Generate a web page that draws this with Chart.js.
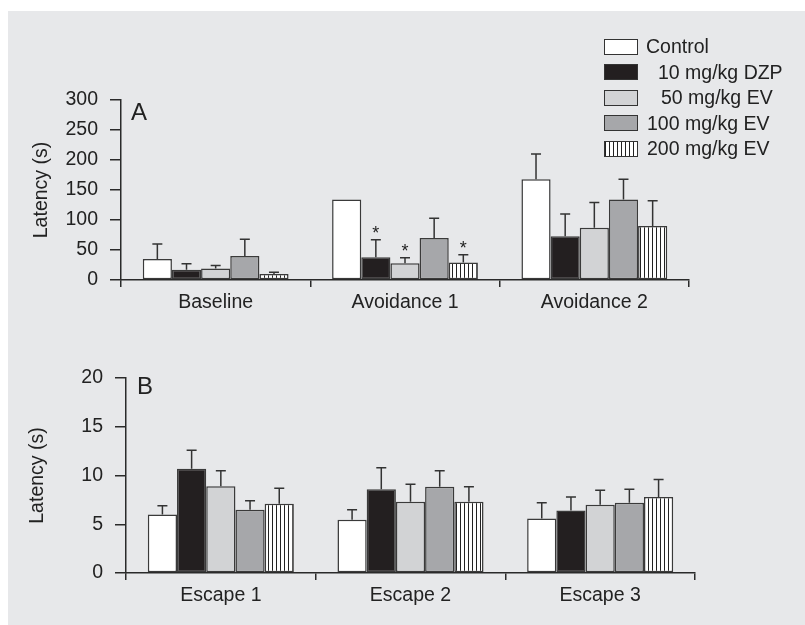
<!DOCTYPE html>
<html>
<head>
<meta charset="utf-8">
<script src="https://cdn.jsdelivr.net/npm/chart.js@4.4.1/dist/chart.umd.min.js"></script>
<style>
    body { margin: 0; background: #fff; font-family: "Liberation Sans", Arial, sans-serif; }
    #panel { position: absolute; left: 8px; top: 11px; width: 797px; height: 614px; background: #e7e8ea; }
    .wrap { position: absolute; left: 0; width: 805px; }
    #legend { position: absolute; left: 604px; top: 34px; color: #222; font-size: 19.5px; }
    .row { display: flex; align-items: center; height: 25.5px; }
    .box { width: 32px; height: 14px; border: 1.5px solid #333; margin-right: 8px; flex: none; }
</style>
</head>
<body>
<div id="panel"></div>
<div class="wrap" style="top:0;height:330px"><canvas id="chartA"></canvas></div>
<div class="wrap" style="top:320px;height:305px"><canvas id="chartB"></canvas></div>
<div id="legend"></div>
<script>
    // categories
    const groupsA = ["Baseline", "Avoidance 1", "Avoidance 2"];
    const groupsB = ["Escape 1", "Escape 2", "Escape 3"];
    const seriesNames = ["Control", "10 mg/kg DZP", "50 mg/kg EV", "100 mg/kg EV", "200 mg/kg EV"];

    // panel A: avoidance latency (s), mean and upper error
    const controlA = [35, 134, 168];
    const dzpA = [17, 38, 73];
    const ev50A = [19, 28, 87];
    const ev100A = [40, 70, 134];
    const ev200A = [10, 29, 90];
    const controlA_err = [25, 0, 42];
    const dzpA_err = [10, 29, 37];
    const ev50A_err = [5, 9, 42];
    const ev100A_err = [28, 33, 34];
    const ev200A_err = [3, 13, 42];
    const dzpA_star = [false, true, false];
    const ev50A_star = [false, true, false];
    const ev200A_star = [false, true, false];

    // panel B: escape latency (s)
    const controlB = [6.0, 5.45, 5.6];
    const dzpB = [10.7, 8.6, 6.4];
    const ev50B = [8.9, 7.3, 7.0];
    const ev100B = [6.5, 8.85, 7.2];
    const ev200B = [7.1, 7.3, 7.8];
    const controlB_err = [0.9, 1.05, 1.6];
    const dzpB_err = [1.9, 2.2, 1.4];
    const ev50B_err = [1.6, 1.8, 1.5];
    const ev100B_err = [0.9, 1.65, 1.4];
    const ev200B_err = [1.6, 1.55, 1.8];

    // tick labels
    const ticksA = [0, 50, 100, 150, 200, 250, 300];
    const ticksB = [0, 5, 10, 15, 20];

    const ink = "#2a2a2a";
    const font = "'Liberation Sans', Arial, sans-serif";
    Chart.defaults.font.family = font;
    Chart.defaults.color = "#222";

    function stripes() {
        const c = document.createElement("canvas");
        c.width = 4; c.height = 4;
        const g = c.getContext("2d");
        g.fillStyle = "#fff"; g.fillRect(0, 0, 4, 4);
        g.fillStyle = "#222"; g.fillRect(0, 0, 1, 4);
        return g.createPattern(c, "repeat");
    }
    const fills = ["#ffffff", "#231f20", "#d2d3d5", "#a6a7aa", stripes()];

    // draws the upward error bars and significance stars
    const errorBars = {
        id: "errorBars",
        afterDatasetsDraw(chart) {
            const ctx = chart.ctx, y = chart.scales.y;
            ctx.save();
            ctx.strokeStyle = "#333";
            ctx.lineWidth = 1.5;
            ctx.fillStyle = "#222";
            ctx.font = "18px " + font;
            ctx.textAlign = "center";
            chart.data.datasets.forEach((ds, i) => {
                chart.getDatasetMeta(i).data.forEach((bar, j) => {
                    const top = y.getPixelForValue(ds.data[j] + ds.err[j]);
                    if (ds.err[j] > 0) {
                        ctx.beginPath();
                        ctx.moveTo(bar.x, bar.y);
                        ctx.lineTo(bar.x, top);
                        ctx.moveTo(bar.x - 5, top);
                        ctx.lineTo(bar.x + 5, top);
                        ctx.stroke();
                    }
                    if (ds.star && ds.star[j]) {
                        ctx.fillText("*", bar.x, top - 1);
                    }
                });
            });
            ctx.restore();
        }
    };

    const panelLabel = {
        id: "panelLabel",
        afterDraw(chart, args, opts) {
            const ctx = chart.ctx;
            ctx.save();
            ctx.fillStyle = "#222";
            ctx.font = "24px " + font;
            ctx.textBaseline = "alphabetic";
            ctx.fillText(opts.text, chart.chartArea.left + opts.dx, chart.chartArea.top + opts.dy);
            ctx.restore();
        }
    };

    function makeDatasets(values, errs, stars) {
        return values.map((v, i) => ({
            label: seriesNames[i],
            data: v,
            err: errs[i],
            star: stars[i],
            backgroundColor: fills[i],
            borderColor: "#3a3a3a",
            borderWidth: 1.5,
            borderSkipped: false,
        }));
    }

    function makeChart(id, labels, datasets, ticks, box, label) {
        new Chart(document.getElementById(id), {
            type: "bar",
            data: { labels: labels, datasets: datasets },
            plugins: [errorBars, panelLabel],
            options: {
                responsive: true,
                maintainAspectRatio: false,
                animation: false,
                categoryPercentage: 0.77,
                barPercentage: 1.0,
                layout: {
                    padding: { left: 0, right: box.right, top: box.top, bottom: box.bottom },
                },
                plugins: {
                    legend: { display: false },
                    tooltip: { enabled: false },
                    panelLabel: label,
                },
                scales: {
                    x: {
                        afterFit: (s) => { s.height = 40; },
                        grid: { offset: true, drawOnChartArea: false, drawTicks: true, tickLength: 7, color: ink, lineWidth: 1.5 },
                        border: { display: true, color: ink, width: 1.5 },
                        ticks: { padding: 4, font: { size: 19.5 }, color: "#222" },
                    },
                    y: {
                        min: ticks[0],
                        max: ticks[ticks.length - 1],
                        afterFit: (s) => { s.width = box.left; },
                        afterBuildTicks: (s) => { s.ticks = ticks.map((v) => ({ value: v })); },
                        grid: { drawOnChartArea: false, drawTicks: true, tickLength: 11, color: ink, lineWidth: 1.5 },
                        border: { display: true, color: ink, width: 1.5 },
                        ticks: { padding: 12, font: { size: 19.5 }, color: "#222" },
                        title: {
                            display: true,
                            text: "Latency (s)",
                            font: { size: 19.5 },
                            color: "#222",
                            padding: { top: box.titlePad, bottom: 0 },
                        },
                    },
                },
            },
        });
    }

    makeChart("chartA", groupsA,
        makeDatasets(
            [controlA, dzpA, ev50A, ev100A, ev200A],
            [controlA_err, dzpA_err, ev50A_err, ev100A_err, ev200A_err],
            [null, dzpA_star, ev50A_star, null, ev200A_star]),
        ticksA,
        { left: 121, right: 116, top: 100, bottom: 10, titlePad: 30 },
        { text: "A", dx: 10, dy: 20 });

    makeChart("chartB", groupsB,
        makeDatasets(
            [controlB, dzpB, ev50B, ev100B, ev200B],
            [controlB_err, dzpB_err, ev50B_err, ev100B_err, ev200B_err],
            [null, null, null, null, null]),
        ticksB,
        { left: 126, right: 110, top: 58, bottom: 12, titlePad: 26 },
        { text: "B", dx: 11, dy: 16 });

    // legend
    const legendIndent = [0, 12, 15, 1, 1];
    const legendFill = ["#ffffff", "#231f20", "#d2d3d5", "#a6a7aa",
        "repeating-linear-gradient(90deg, #222 0 1px, #fff 1px 4px)"];
    const legend = document.getElementById("legend");
    seriesNames.forEach((name, i) => {
        const row = document.createElement("div");
        row.className = "row";
        const box = document.createElement("span");
        box.className = "box";
        box.style.background = legendFill[i];
        const txt = document.createElement("span");
        txt.textContent = name;
        txt.style.marginLeft = legendIndent[i] + "px";
        row.appendChild(box);
        row.appendChild(txt);
        legend.appendChild(row);
    });
</script>
</body>
</html>
